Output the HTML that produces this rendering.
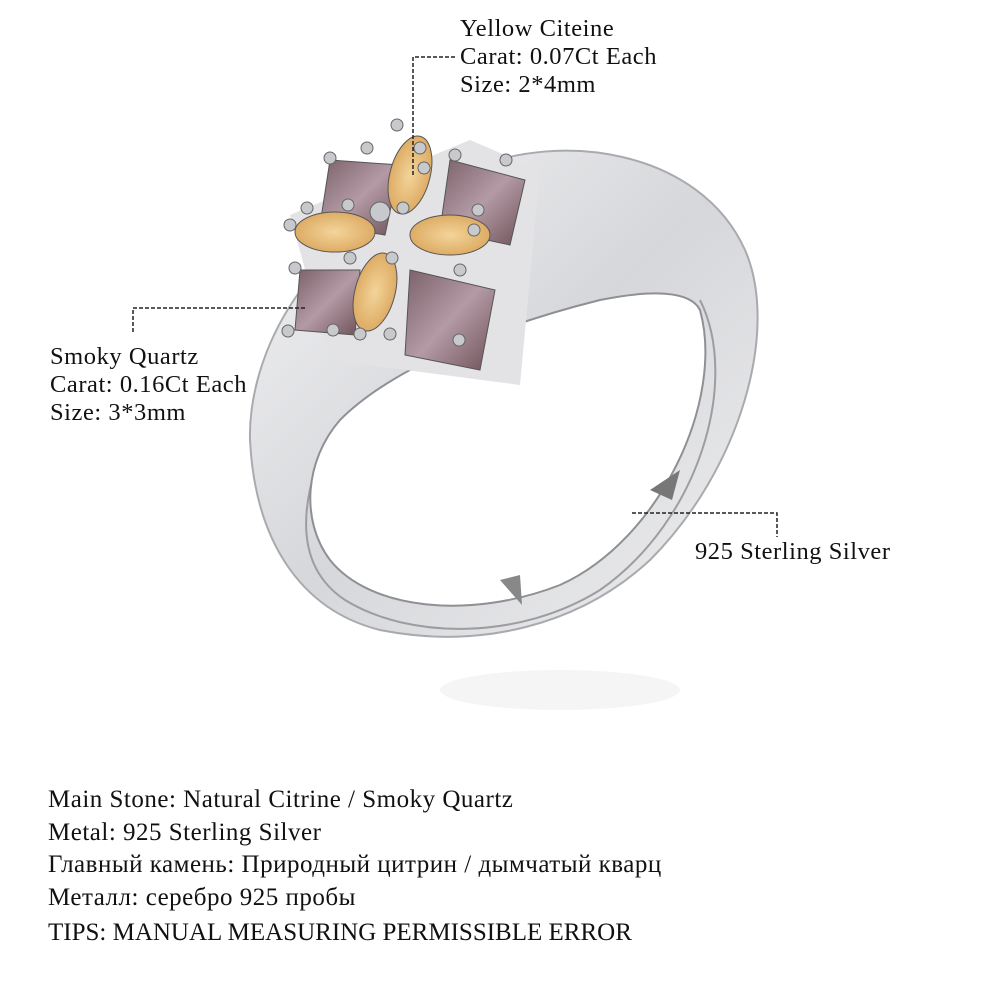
<!DOCTYPE html>
<html><head><meta charset="utf-8"><style>
html,body{margin:0;padding:0;background:#fff}
.w{position:relative;width:1000px;height:1000px;overflow:hidden;font-family:"Liberation Serif",serif;color:#111}
.t{position:absolute;font-size:24.5px;line-height:28px;white-space:nowrap;letter-spacing:0.55px}
.b{font-size:25px;line-height:30px;letter-spacing:0.5px}
</style></head><body><div class="w">
<svg width="1000" height="1000" style="position:absolute;left:0;top:0">
<defs>
<linearGradient id="sil" x1="0" y1="0" x2="1" y2="1">
<stop offset="0" stop-color="#f4f4f6"/><stop offset="0.5" stop-color="#d6d7da"/><stop offset="1" stop-color="#eeeef0"/></linearGradient>
<radialGradient id="cit" cx="0.5" cy="0.5" r="0.6"><stop offset="0" stop-color="#f3d49a"/><stop offset="1" stop-color="#d9a45a"/></radialGradient>
<linearGradient id="smk" x1="0" y1="0" x2="1" y2="1"><stop offset="0" stop-color="#7a6068"/><stop offset="0.5" stop-color="#b49aa5"/><stop offset="1" stop-color="#6d5157"/></linearGradient>
</defs>
<ellipse cx="560" cy="690" rx="120" ry="20" fill="#eee" opacity="0.6"/>
<path d="M470 170 C560 130 700 150 745 250 C780 330 740 470 650 560 C580 625 480 650 380 630 C300 610 255 540 250 440 C248 360 300 230 470 170 Z" fill="url(#sil)" stroke="#a9aaae" stroke-width="2"/>
<path d="M700 300 C740 380 700 520 600 590 C520 640 410 640 345 600 C300 570 300 520 315 470" fill="none" stroke="#9c9da1" stroke-width="2"/>
<path d="M700 310 C725 400 660 540 560 585 C470 620 370 610 330 560 C300 520 305 460 340 420 C400 360 520 320 600 300 C650 290 690 290 700 310 Z" fill="#fff" stroke="#8f9094" stroke-width="2"/>
<path d="M650 490 L680 470 L672 500 Z" fill="#777"/>
<path d="M500 580 L520 575 L522 605 Z" fill="#888"/>
<path d="M290 215 L470 140 L540 170 L520 385 L330 360 Z" fill="#e3e3e6"/>
<g stroke="#555" stroke-width="1">
<polygon points="330,160 400,165 385,235 320,225" fill="url(#smk)"/>
<polygon points="450,160 525,180 510,245 440,230" fill="url(#smk)"/>
<polygon points="300,270 360,270 355,335 295,330" fill="url(#smk)"/>
<polygon points="410,270 495,290 480,370 405,355" fill="url(#smk)"/>
<ellipse cx="410" cy="175" rx="20" ry="40" fill="url(#cit)" transform="rotate(15 410 175)"/>
<ellipse cx="335" cy="232" rx="40" ry="20" fill="url(#cit)"/>
<ellipse cx="450" cy="235" rx="40" ry="20" fill="url(#cit)"/>
<ellipse cx="375" cy="292" rx="20" ry="40" fill="url(#cit)" transform="rotate(15 375 292)"/>
</g>
<g fill="#c8c9cc" stroke="#666" stroke-width="1">
<circle cx="380" cy="212" r="10"/>
<circle cx="397" cy="125" r="6"/><circle cx="420" cy="148" r="6"/><circle cx="367" cy="148" r="6"/>
<circle cx="330" cy="158" r="6"/><circle cx="424" cy="168" r="6"/><circle cx="455" cy="155" r="6"/><circle cx="506" cy="160" r="6"/>
<circle cx="290" cy="225" r="6"/><circle cx="307" cy="208" r="6"/><circle cx="348" cy="205" r="6"/><circle cx="403" cy="208" r="6"/><circle cx="478" cy="210" r="6"/><circle cx="474" cy="230" r="6"/>
<circle cx="295" cy="268" r="6"/><circle cx="350" cy="258" r="6"/><circle cx="392" cy="258" r="6"/><circle cx="460" cy="270" r="6"/>
<circle cx="288" cy="331" r="6"/><circle cx="333" cy="330" r="6"/><circle cx="360" cy="334" r="6"/><circle cx="390" cy="334" r="6"/><circle cx="459" cy="340" r="6"/>
</g>
<g stroke="#222" stroke-width="1.5" stroke-dasharray="4,2" fill="none">
<path d="M455 57 H413 V177"/>
<path d="M305 308 H133 V333"/>
<path d="M632 513 H777 V537"/>
</g>
</svg>
<div class="t" style="left:460px;top:15px">Yellow Citeine<br>Carat: 0.07Ct Each<br>Size: 2*4mm</div>
<div class="t" style="left:50px;top:343px">Smoky Quartz<br>Carat: 0.16Ct Each<br>Size: 3*3mm</div>
<div class="t" style="left:695px;top:538px">925 Sterling Silver</div>
<div class="t b" style="left:48px;top:785px">Main Stone: Natural Citrine / Smoky Quartz</div>
<div class="t b" style="left:48px;top:818px">Metal: 925 Sterling Silver</div>
<div class="t b" style="left:48px;top:850px">Главный камень: Природный цитрин / дымчатый кварц</div>
<div class="t b" style="left:48px;top:883px">Металл: серебро 925 пробы</div>
<div class="t b" style="left:48px;top:918px;letter-spacing:0">TIPS: MANUAL MEASURING PERMISSIBLE ERROR</div>
</div></body></html>
